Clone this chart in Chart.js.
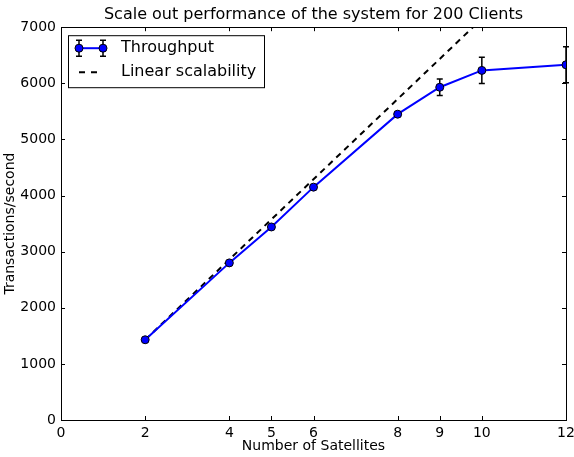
<!DOCTYPE html>
<html>
<head>
<meta charset="utf-8">
<script src="https://cdn.jsdelivr.net/npm/chart.js@4"></script>
<style>
  html, body { margin: 0; padding: 0; background: #fff; }
  #wrap { width: 574px; height: 457px; }
</style>
</head>
<body>
<div id="wrap"><canvas id="chart" width="574" height="457"></canvas></div>
<script>
const satellites = [2, 4, 5, 6, 8, 9, 10, 12];
const throughput = [1430, 2800, 3440, 4150, 5450, 5930, 6230, 6330];
const throughputErr = [20, 20, 25, 25, 30, 145, 235, 320];
const linearScalability = [1430, 2860, 3575, 4290, 5720, 6435, 7150, 8580];
const xTicks = [0, 2, 4, 5, 6, 8, 9, 10, 12];
const yTicks = [0, 1000, 2000, 3000, 4000, 5000, 6000, 7000];

const font = "'DejaVu Sans', sans-serif";

// matplotlib style: ticks pointing inward on all four sides, plus full frame
const frameTicks = {
  id: 'frameTicks',
  afterDatasetsDraw(chart) {
    const { ctx, chartArea: a, scales } = chart;
    ctx.save();
    ctx.strokeStyle = '#000';
    ctx.lineWidth = 1;
    ctx.beginPath();
    xTicks.forEach(v => {
      const px = Math.round(scales.x.getPixelForValue(v)) + 0.5;
      ctx.moveTo(px, a.bottom); ctx.lineTo(px, a.bottom - 4);
      ctx.moveTo(px, a.top); ctx.lineTo(px, a.top + 4);
    });
    yTicks.forEach(v => {
      const py = Math.round(scales.y.getPixelForValue(v)) + 0.5;
      ctx.moveTo(a.left, py); ctx.lineTo(a.left + 4, py);
      ctx.moveTo(a.right, py); ctx.lineTo(a.right - 4, py);
    });
    ctx.stroke();
    ctx.strokeRect(Math.round(a.left) + 0.5, Math.round(a.top) + 0.5,
      Math.round(a.right - a.left), Math.round(a.bottom - a.top));
    ctx.restore();
  }
};

function drawErrBar(ctx, x, yTop, yBot, cap) {
  ctx.beginPath();
  ctx.moveTo(x, yTop); ctx.lineTo(x, yBot);
  ctx.moveTo(x - cap, yTop); ctx.lineTo(x + cap, yTop);
  ctx.moveTo(x - cap, yBot); ctx.lineTo(x + cap, yBot);
  ctx.stroke();
}

const errorBars = {
  id: 'errorBars',
  beforeDatasetsDraw(chart) {
    const { ctx, scales } = chart;
    ctx.save();
    ctx.strokeStyle = '#000';
    ctx.lineWidth = 1.5;
    satellites.forEach((s, i) => {
      const x = scales.x.getPixelForValue(s);
      const top = scales.y.getPixelForValue(throughput[i] + throughputErr[i]);
      const bot = scales.y.getPixelForValue(throughput[i] - throughputErr[i]);
      drawErrBar(ctx, x, top, bot, 3);
    });
    ctx.restore();
  }
};

const boxLegend = {
  id: 'boxLegend',
  afterDraw(chart) {
    const { ctx, chartArea: a } = chart;
    const x0 = a.left + 7, y0 = a.top + 8;
    ctx.save();
    ctx.fillStyle = '#fff';
    ctx.fillRect(x0, y0, 196, 52);
    ctx.strokeStyle = '#000';
    ctx.lineWidth = 1;
    ctx.strokeRect(x0 + 0.5, y0 + 0.5, 196, 52);

    // row 1: throughput
    const r1 = y0 + 13;
    ctx.strokeStyle = '#0000ff';
    ctx.lineWidth = 2;
    ctx.beginPath(); ctx.moveTo(x0 + 11, r1); ctx.lineTo(x0 + 35, r1); ctx.stroke();
    ctx.strokeStyle = '#000';
    ctx.lineWidth = 1.5;
    [x0 + 11, x0 + 35].forEach(mx => {
      drawErrBar(ctx, mx, r1 - 8, r1 + 8, 3);
      ctx.beginPath();
      ctx.arc(mx, r1, 4, 0, Math.PI * 2);
      ctx.fillStyle = '#0000ff';
      ctx.fill();
      ctx.lineWidth = 1;
      ctx.stroke();
      ctx.lineWidth = 1.5;
    });

    // row 2: linear
    const r2 = y0 + 37;
    ctx.strokeStyle = '#000';
    ctx.lineWidth = 2;
    ctx.setLineDash([6, 6]);
    ctx.beginPath(); ctx.moveTo(x0 + 11, r2); ctx.lineTo(x0 + 35, r2); ctx.stroke();
    ctx.setLineDash([]);

    ctx.fillStyle = '#000';
    ctx.font = '16px ' + font;
    ctx.textBaseline = 'middle';
    ctx.fillText('Throughput', x0 + 53, r1);
    ctx.fillText('Linear scalability', x0 + 53, r2);
    ctx.restore();
  }
};

new Chart(document.getElementById('chart'), {
  type: 'line',
  data: {
    datasets: [
      {
        label: 'Throughput',
        data: satellites.map((s, i) => ({ x: s, y: throughput[i] })),
        borderColor: '#0000ff',
        backgroundColor: '#0000ff',
        borderWidth: 2,
        pointRadius: 4,
        pointBorderColor: '#000',
        pointBorderWidth: 1,
        pointBackgroundColor: '#0000ff',
        order: 1
      },
      {
        label: 'Linear scalability',
        data: satellites.map((s, i) => ({ x: s, y: linearScalability[i] })),
        borderColor: '#000',
        borderWidth: 2,
        borderDash: [6, 5],
        pointRadius: 0,
        clip: 0,
        order: 2
      }
    ]
  },
  options: {
    responsive: false,
    animation: false,
    layout: { padding: { left: 0, right: 0, top: 0, bottom: 0 } },
    plugins: {
      legend: { display: false },
      tooltip: { enabled: false },
      title: {
        display: true,
        text: 'Scale out performance of the system for 200 Clients',
        color: '#000',
        font: { family: font, size: 16, weight: 'normal' },
        fullSize: false,
        padding: { top: 5, bottom: 3 }
      }
    },
    scales: {
      x: {
        type: 'linear',
        min: 0,
        max: 12,
        afterBuildTicks: scale => { scale.ticks = xTicks.map(v => ({ value: v })); },
        afterFit: scale => { scale.height = 37; scale.paddingRight = 8; scale.paddingLeft = 0; },
        grid: { display: false, drawTicks: false },
        border: { display: false },
        ticks: {
          color: '#000', font: { family: font, size: 14 }, padding: 5, maxRotation: 0,
          callback: v => String(v)
        },
        title: {
          display: true,
          text: 'Number of Satellites',
          color: '#000',
          font: { family: font, size: 14 },
          padding: { top: 0, bottom: 2 }
        }
      },
      y: {
        min: 0,
        max: 7000,
        afterBuildTicks: scale => { scale.ticks = yTicks.map(v => ({ value: v })); },
        afterFit: scale => { scale.width = 61; },
        grid: { display: false, drawTicks: false },
        border: { display: false },
        ticks: {
          color: '#000', font: { family: font, size: 14 }, padding: 5,
          callback: v => String(v)
        },
        title: {
          display: true,
          text: 'Transactions/second',
          color: '#000',
          font: { family: font, size: 14 },
          padding: { top: 2, bottom: 0 }
        }
      }
    }
  },
  plugins: [errorBars, frameTicks, boxLegend]
});
</script>
</body>
</html>
